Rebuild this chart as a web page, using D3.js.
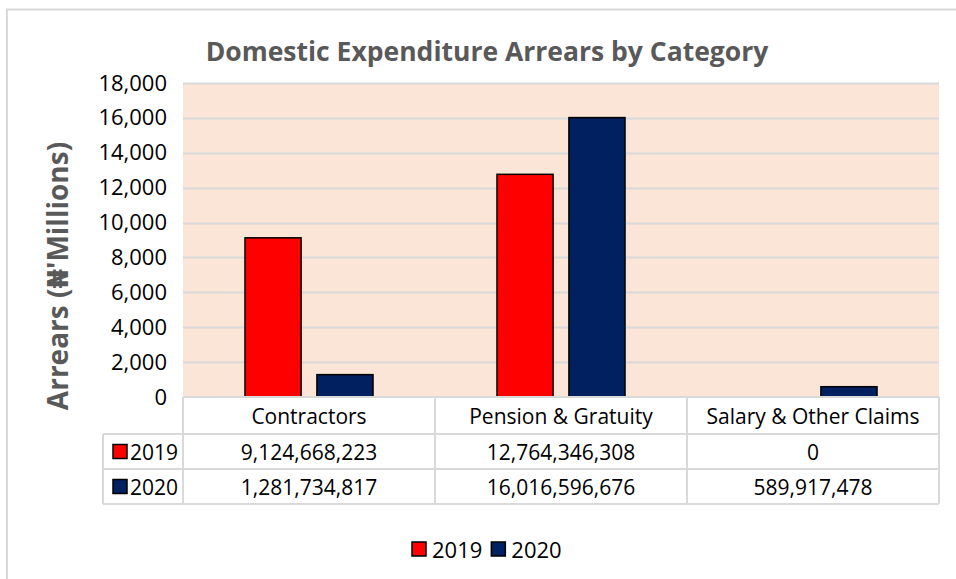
<!DOCTYPE html>
<html>
<head>
<meta charset="utf-8">
<script src="https://cdn.jsdelivr.net/npm/d3@7"></script>
<style>
  html, body { margin: 0; padding: 0; background: #fff; }
  svg { display: block; font-family: "Open Sans", "DejaVu Sans", sans-serif; }
</style>
</head>
<body>
<svg id="chart" width="956" height="579"></svg>
<script>
// ---- data ----
const title = "Domestic Expenditure Arrears by Category";
const yAxisLabel = "Arrears (\u20A6'Millions)";
const categories = ["Contractors", "Pension & Gratuity", "Salary & Other Claims"];
const years = ["2019", "2020"];
const values2019 = [9124668223, 12764346308, 0];
const values2020 = [1281734817, 16016596676, 589917478];
const yTicks = [0, 2000, 4000, 6000, 8000, 10000, 12000, 14000, 16000, 18000];
const colors = ["#FF0000", "#002060"];

const seriesValues = [values2019, values2020];

const svg = d3.select("#chart");
const W = 956, H = 579;
const plot = { left: 183, right: 939, top: 83, bottom: 397 };
const rowH = [37, 35, 35];
const tableLeft = 103;
const fs = 21;

// outer chart border
svg.append("path")
  .attr("d", `M7,${H} L7,9.5 L${W},9.5`)
  .attr("fill", "none").attr("stroke", "#D9D9D9").attr("stroke-width", 2);

// scales
const y = d3.scaleLinear().domain([0, 18000]).range([plot.bottom, plot.top]);
const x0 = d3.scaleBand().domain(categories).range([plot.left, plot.right]).padding(0);
const bw = x0.bandwidth();
const x1 = d3.scaleBand().domain(years).range([bw * 0.246, bw * 0.754]).paddingInner(0.22).paddingOuter(0);

// plot background
svg.append("rect")
  .attr("x", plot.left).attr("y", plot.top)
  .attr("width", plot.right - plot.left).attr("height", plot.bottom - plot.top)
  .attr("fill", "#FBE5D6");

// gridlines
svg.append("g").selectAll("line").data(yTicks.filter(d => d > 0)).join("line")
  .attr("x1", plot.left).attr("x2", plot.right)
  .attr("y1", d => Math.round(y(d)) + 0.5).attr("y2", d => Math.round(y(d)) + 0.5)
  .attr("stroke", "#D9D9D9").attr("stroke-width", 2);

// y axis
const yAxis = d3.axisLeft(y).tickValues(yTicks).tickFormat(d3.format(",")).tickSize(0).tickPadding(16);
const gy = svg.append("g").attr("transform", `translate(${plot.left},0)`).call(yAxis);
gy.select(".domain").remove();
gy.selectAll("text").attr("font-size", 22).attr("fill", "#000")
  .attr("font-family", "'Open Sans', sans-serif");

// bars
const groups = svg.append("g").selectAll("g").data(categories).join("g")
  .attr("transform", d => `translate(${x0(d)},0)`);
groups.selectAll("rect")
  .data((c, i) => years.map((yr, s) => ({ yr, s, v: seriesValues[s][i] / 1e6 })))
  .join("rect")
  .filter(d => d.v > 0)
  .attr("x", d => x1(d.yr))
  .attr("y", d => y(d.v))
  .attr("width", x1.bandwidth())
  .attr("height", d => y(0) - y(d.v))
  .attr("fill", d => colors[d.s])
  .attr("stroke", "#000").attr("stroke-width", 1.5);

// data table
const tbl = svg.append("g");
const gridC = "#D9D9D9";
const rowTops = [plot.bottom, plot.bottom + rowH[0], plot.bottom + rowH[0] + rowH[1]];
const tableBottom = rowTops[2] + rowH[2];
tbl.append("line").attr("x1", plot.left).attr("x2", plot.right).attr("y1", rowTops[0]).attr("y2", rowTops[0]).attr("stroke", gridC).attr("stroke-width", 2);
[rowTops[1], rowTops[2], tableBottom].forEach(yy => {
  tbl.append("line").attr("x1", tableLeft).attr("x2", plot.right).attr("y1", yy).attr("y2", yy).attr("stroke", gridC).attr("stroke-width", 2);
});
tbl.append("line").attr("x1", tableLeft).attr("x2", tableLeft).attr("y1", rowTops[1]).attr("y2", tableBottom).attr("stroke", gridC).attr("stroke-width", 2);
[plot.left, ...categories.map(c => x0(c) + bw)].forEach(xx => {
  tbl.append("line").attr("x1", xx).attr("x2", xx).attr("y1", rowTops[0]).attr("y2", tableBottom).attr("stroke", gridC).attr("stroke-width", 2);
});
tbl.selectAll("text.cat").data(categories).join("text")
  .attr("class", "cat")
  .attr("x", d => x0(d) + bw / 2).attr("y", rowTops[0] + rowH[0] / 2)
  .attr("text-anchor", "middle").attr("dominant-baseline", "central")
  .attr("font-size", fs).attr("fill", "#000").text(d => d);
const fmt = d3.format(",");
years.forEach((yr, s) => {
  const cy = rowTops[s + 1] + rowH[s + 1] / 2;
  tbl.append("rect").attr("x", 113).attr("y", cy - 7).attr("width", 14).attr("height", 14)
    .attr("fill", colors[s]).attr("stroke", "#000").attr("stroke-width", 1.5);
  tbl.append("text").attr("x", 130).attr("y", cy).attr("dominant-baseline", "central")
    .attr("font-size", fs).attr("fill", "#000").text(yr);
  tbl.selectAll(null).data(categories).join("text")
    .attr("x", d => x0(d) + bw / 2).attr("y", cy)
    .attr("text-anchor", "middle").attr("dominant-baseline", "central")
    .attr("font-size", fs).attr("fill", "#000")
    .text((d, i) => fmt(seriesValues[s][i]));
});

// title
svg.append("text").attr("x", 487).attr("y", 61).attr("text-anchor", "middle")
  .attr("font-size", 26.5).attr("font-weight", "bold").attr("fill", "#595959")
  .text(title);

// y axis label
svg.append("text")
  .attr("transform", `translate(68,${276}) rotate(-90)`)
  .attr("text-anchor", "middle")
  .attr("font-size", 28).attr("font-weight", "bold").attr("fill", "#595959")
  .text(yAxisLabel);

// legend
const legend = svg.append("g").attr("transform", "translate(412,549)");
let lx = 0;
years.forEach((yr, s) => {
  legend.append("rect").attr("x", lx).attr("y", -7).attr("width", 14).attr("height", 14)
    .attr("fill", colors[s]).attr("stroke", "#000").attr("stroke-width", 1.5);
  const t = legend.append("text").attr("x", lx + 20).attr("y", 0).attr("dominant-baseline", "central")
    .attr("font-size", 22).attr("fill", "#000").text(yr);
  lx += 20 + t.node().getComputedTextLength() + 9;
});
</script>
</body>
</html>
